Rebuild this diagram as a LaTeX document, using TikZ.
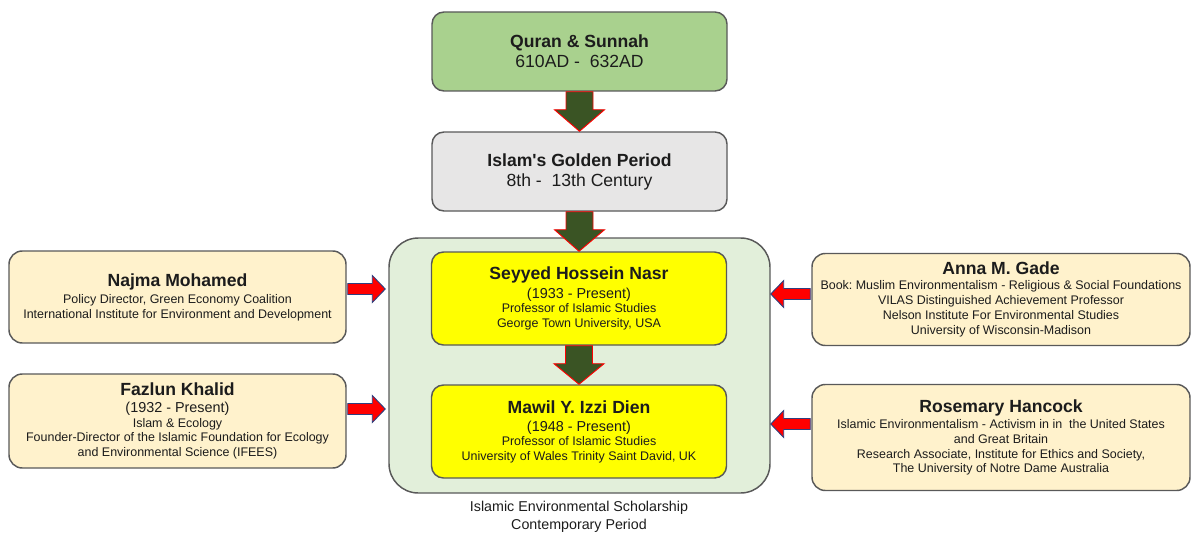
\documentclass[tikz,border=0pt]{standalone}
\usepackage{fontspec}
\setmainfont{Liberation Sans}[Ligatures=TeXOff]
\usetikzlibrary{calc}
\frenchspacing

\definecolor{quranfill}{HTML}{A9D18E}
\definecolor{goldfill}{HTML}{E7E6E6}
\definecolor{contfill}{HTML}{E2EFDA}
\definecolor{scholarfill}{HTML}{FFFF00}
\definecolor{sidefill}{HTML}{FFF2CC}
\definecolor{edge}{HTML}{595959}
\definecolor{darkarrow}{HTML}{3A5424}
\definecolor{arrowred}{HTML}{FF0000}
\definecolor{arrowblue}{HTML}{2F3F7F}
\definecolor{ink}{HTML}{1C1C1C}

\newcommand\ttlfont{\fontsize{13.2}{15}\selectfont\bfseries}
\newcommand\datefont{\fontsize{10.8}{12.5}\selectfont}
\newcommand\smallfont{\fontsize{9.35}{11.1}\selectfont}

% vertical block arrow from the bottom of #1 to the top of #2
\newcommand\downblock[2]{%
  \draw[vblock] ($(#1.south)+(-13.5,0)$) -- ($(#1.south)+(13.5,0)$)
    -- ($(#1.south)+(13.5,18)$) -- ($(#1.south)+(25,18)$) -- (#2.north)
    -- ($(#1.south)+(-25,18)$) -- ($(#1.south)+(-13.5,18)$) -- cycle;}

% horizontal block arrow from coordinate #1 to tip #2, direction #3 (+1 right, -1 left)
\newcommand\sideblock[3]{%
  \draw[hblock] ($(#1)+(0,-5.5)$) -- ($(#2)+({-13*#3},-5.5)$)
    -- ($(#2)+({-13*#3},-13.5)$) -- (#2) -- ($(#2)+({-13*#3},13.5)$)
    -- ($(#2)+({-13*#3},5.5)$) -- ($(#1)+(0,5.5)$) -- cycle;}

\begin{document}
\begin{tikzpicture}[x=0.75pt,y=-0.75pt,
  box/.style={draw=edge, line width=1.1pt, inner sep=0pt, align=center, text=ink},
  mainbox/.style={box, rounded corners=9pt, minimum width=221.25pt},
  sidebox/.style={box, rounded corners=10pt, fill=sidefill, font=\smallfont},
  scholar/.style={mainbox, fill=scholarfill, minimum height=69.75pt, font=\smallfont},
  vblock/.style={fill=darkarrow, draw=arrowred, line width=0.7pt, line join=miter},
  hblock/.style={fill=arrowred, draw=arrowblue, line width=0.7pt, line join=miter}]

\useasboundingbox (0,0) rectangle (1196,535);

% contemporary period container
\node[box, rounded corners=22pt, fill=contfill, minimum width=285.75pt,
      minimum height=191.25pt] (cont) at (579.5,365.5) {};

% timeline boxes
\node[mainbox, fill=quranfill, minimum height=59.25pt, font=\ttlfont] (quran) at (579.5,51.5)
  {Quran \& Sunnah\\[0pt] {\mdseries 610AD -\ \ 632AD}};
\node[mainbox, fill=goldfill, minimum height=59.25pt, font=\ttlfont] (golden) at (579.5,171.5)
  {Islam's Golden Period\\[0pt] {\mdseries 8th -\ \ 13th Century}};

% scholars inside the container
\node[scholar] (nasr) at (579,298.5)
  {{\ttlfont Seyyed Hossein Nasr}\\[3pt]
   {\datefont (1933 - Present)}\\[-0.5pt]
   Professor of Islamic Studies\\
   George Town University, USA};
\node[scholar] (dien) at (579,431.5)
  {{\ttlfont Mawil Y. Izzi Dien}\\[2.5pt]
   {\datefont (1948 - Present)}\\[-0.5pt]
   Professor of Islamic Studies\\
   University of Wales Trinity Saint David, UK};

% contributors on the left
\node[sidebox, minimum width=252.75pt, minimum height=69pt] (najma) at (177.5,297)
  {{\ttlfont Najma Mohamed}\\[1.8pt]
   Policy Director, Green Economy Coalition\\
   International Institute for Environment and Development};
\node[sidebox, minimum width=252.75pt, minimum height=70.5pt] (fazlun) at (177.5,421)
  {{\ttlfont Fazlun Khalid}\\[2pt]
   {\datefont (1932 - Present)}\\[-0.5pt]
   Islam \& Ecology\\
   Founder-Director of the Islamic Foundation for Ecology\\
   and Environmental Science (IFEES)};

% contributors on the right
\node[sidebox, minimum width=283.5pt, minimum height=69pt] (anna) at (1001,299.5)
  {{\ttlfont Anna M. Gade}\\[0.3pt]
   Book: Muslim Environmentalism - Religious \& Social Foundations\\
   VILAS Distinguished Achievement Professor\\
   Nelson Institute For Environmental Studies\\
   University of Wisconsin-Madison};
\node[sidebox, minimum width=283.5pt, minimum height=79.5pt] (rosemary) at (1001,437.5)
  {{\ttlfont Rosemary Hancock}\\[1pt]
   Islamic Environmentalism - Activism in in\ \ the United States\\
   and Great Britain\\
   Research Associate, Institute for Ethics and Society,\\
   The University of Notre Dame Australia};

% caption under the container
\node[align=center, text=ink, font=\fontsize{10.7}{13.5}\selectfont] (caption) at (579,517)
  {Islamic Environmental Scholarship\\Contemporary Period};

% succession arrows
\downblock{quran}{golden}
\downblock{golden}{nasr}
\downblock{nasr}{dien}

% influence arrows into the container
\coordinate (nS) at ($(najma.east)+(1,-8)$);
\coordinate (nT) at ($(nS -| cont.west)+(-3,0)$);
\coordinate (fS) at ($(fazlun.east)+(1,-12)$);
\coordinate (fT) at ($(fS -| cont.west)+(-3,0)$);
\coordinate (aS) at ($(anna.west)+(-1,-5.5)$);
\coordinate (aT) at ($(aS -| cont.east)+(0,0)$);
\coordinate (rS) at ($(rosemary.west)+(-1,-13.5)$);
\coordinate (rT) at ($(rS -| cont.east)+(0,0)$);
\sideblock{nS}{nT}{1}
\sideblock{fS}{fT}{1}
\sideblock{aS}{aT}{-1}
\sideblock{rS}{rT}{-1}
\end{tikzpicture}
\end{document}
